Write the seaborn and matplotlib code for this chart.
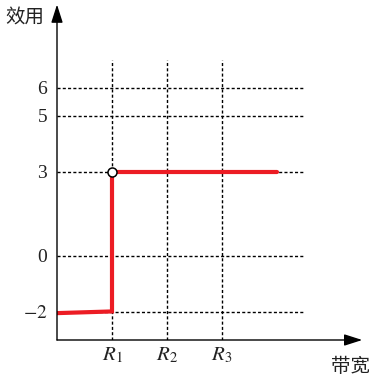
import matplotlib
matplotlib.use("Agg")
import matplotlib.pyplot as plt
import seaborn as sns

# data
x_ticks = [1, 2, 3]
x_labels = [r"$R_1$", r"$R_2$", r"$R_3$"]
y_ticks = [6, 5, 3, 0, -2]
y_labels = ["6", "5", "3", "0", r"$-2$"]

# utility curve: step at R1
curve_x = [0, 1, 1, 4]
curve_y = [-2.04, -1.98, 3, 3]
open_x = [1]
open_y = [3]

sns.set_theme(style="white")
plt.rcParams["font.family"] = ["Liberation Serif", "Noto Sans CJK SC", "DejaVu Sans"]
plt.rcParams["mathtext.fontset"] = "stix"

fig = plt.figure(figsize=(3.69, 3.80), dpi=100)
ax = fig.add_axes([57 / 369, 40 / 380, 308 / 369, 338.8 / 380])
ax.set_xlim(0, 5.6)
ax.set_ylim(-3, 9.1)
for s in ax.spines.values():
    s.set_visible(False)

# dotted grid
dot = (0, (2.2, 1.6))
ax.hlines(y_ticks, 0, 4.5, colors="black", linestyles=[dot], lw=1.0, zorder=1)
ax.vlines(x_ticks, -3, 7, colors="black", linestyles=[dot], lw=1.0, zorder=1)

# the curve
sns.lineplot(x=curve_x, y=curve_y, sort=False, estimator=None, color="#ec1c24",
             lw=3.0, ax=ax, zorder=3, solid_joinstyle="miter")
ax.plot(open_x, open_y, "o", ms=6.5, mfc="white", mec="black", mew=1.1, zorder=4)

# axes with arrows
arrow = dict(arrowstyle="-|>,head_length=1.0,head_width=0.32", mutation_scale=11,
             color="black", lw=1.0, shrinkA=0, shrinkB=0)
ax.annotate("", xy=(0, 8.98), xytext=(0, -3), arrowprops=arrow, annotation_clip=False)
ax.annotate("", xy=(5.55, -3), xytext=(0, -3), arrowprops=arrow, annotation_clip=False)

ax.set_yticks(y_ticks)
ax.set_yticklabels(y_labels, fontsize=14, color="#222222")
ax.set_xticks(x_ticks)
ax.set_xticklabels(x_labels, fontsize=15, color="#222222")
ax.tick_params(axis="y", length=0, pad=7)
ax.tick_params(axis="x", length=0, pad=4)

fig.text(25 / 369, 1 - 17 / 380, "效用", fontsize=14, family=["Noto Sans CJK SC"],
         ha="center", va="center", color="#222222")
fig.text(350 / 369, 1 - 366 / 380, "带宽", fontsize=14, family=["Noto Sans CJK SC"],
         ha="center", va="center", color="#222222")

fig.savefig("out.png", dpi=100)
